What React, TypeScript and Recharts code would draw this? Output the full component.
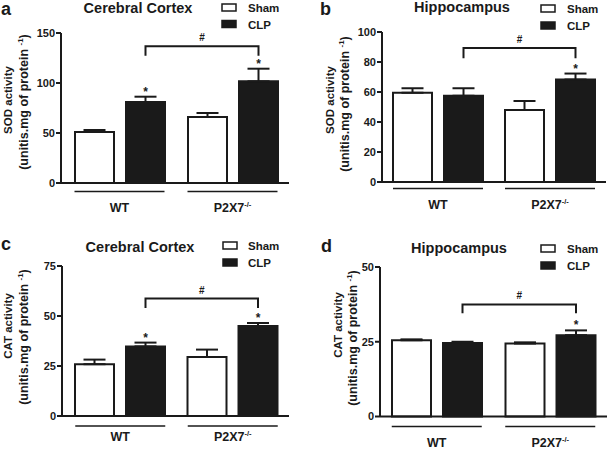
import React from 'react';
import { BarChart, Bar, XAxis, YAxis, ErrorBar, LabelList, Legend } from 'recharts';

// ---------- data ----------
const groups = ['WT', 'P2X7'];
const groupSup = ['', '-/-'];
const seriesNames = ['Sham', 'CLP'];

const sodCortexSham = [51, 66];
const sodCortexShamErr = [2, 4];
const sodCortexClp = [81, 101.7];
const sodCortexClpErr = [5.3, 12.6];
const sodCortexStars = ['*', '*'];
const sodCortexBracket = [136.7, 127.3];
const sodCortexTicks = [0, 50, 100, 150];

const sodHippoSham = [59.5, 48];
const sodHippoShamErr = [3, 6];
const sodHippoClp = [57.5, 68.3];
const sodHippoClpErr = [5, 4];
const sodHippoStars = ['', '*'];
const sodHippoBracket = [89.3, 82.5];
const sodHippoTicks = [0, 20, 40, 60, 80, 100];

const catCortexSham = [25.9, 29.5];
const catCortexShamErr = [2.3, 3.7];
const catCortexClp = [34.8, 45];
const catCortexClpErr = [1.9, 1.5];
const catCortexStars = ['*', '*'];
const catCortexBracket = [58.7, 54];
const catCortexTicks = [0, 25, 50, 75];

const catHippoSham = [25.5, 24.4];
const catHippoShamErr = [0.3, 0.4];
const catHippoClp = [24.6, 27.2];
const catHippoClpErr = [0.4, 1.6];
const catHippoStars = ['', '*'];
const catHippoBracket = [37.5, 34.5];
const catHippoTicks = [0, 25, 50];

const FONT = '"Liberation Sans", Arial, Helvetica, sans-serif';
const INK = '#1a1a1a';

function buildRows(sham: number[], shamErr: number[], clp: number[], clpErr: number[]) {
  return groups.map((g, i) => ({
    group: g,
    sham: sham[i],
    shamErr: [0, shamErr[i]],
    clp: clp[i],
    clpErr: [0, clpErr[i]],
  }));
}

function makeAnnot(err: number[], stars: string[], bracket: number[]) {
  const store: { x0?: number } = {};
  return (props: any) => {
    const vb = props.viewBox || props;
    const { x, y, width, height } = vb;
    const idx = props.index ?? 0;
    const value = Number(props.value);
    const h = Math.abs(height);
    const ppu = h / value;
    const top = Math.min(y, y + height);
    const base = top + h;
    const cx = x + width / 2;
    const capY = base - (value + err[idx]) * ppu;
    const star = stars[idx] ? (
      <text x={cx} y={capY - 1} textAnchor="middle" fontFamily={FONT} fontSize={12} fontWeight={700} fill={INK}>
        {stars[idx]}
      </text>
    ) : null;
    if (idx === 0) {
      store.x0 = cx;
      return <g>{star}</g>;
    }
    const x0 = store.x0;
    if (x0 === undefined) return <g>{star}</g>;
    const yTop = base - bracket[0] * ppu;
    const yBot = base - bracket[1] * ppu;
    return (
      <g>
        {star}
        <path d={`M${x0},${yBot} V${yTop} H${cx} V${yBot}`} fill="none" stroke={INK} strokeWidth={2} />
        <text x={(x0 + cx) / 2} y={yTop - 5} textAnchor="middle" fontFamily={FONT} fontSize={10} fontWeight={700} fill={INK}>
          #
        </text>
      </g>
    );
  };
}

function makeTick(lineDy: number, textDy: number) {
  return (props: any) => {
    const { x, y, payload, index } = props;
    const i = typeof index === 'number' ? index : groups.indexOf(payload.value);
    return (
      <g>
        <line x1={x - 45} x2={x + 45} y1={y + lineDy} y2={y + lineDy} stroke={INK} strokeWidth={1.5} />
        <text x={x} y={y + textDy} textAnchor="middle" fontFamily={FONT} fontSize={12.5} fontWeight={700} fill={INK}>
          {payload.value}
          {groupSup[i] ? (
            <tspan dy={-5} fontSize={7.5}>
              {groupSup[i]}
            </tspan>
          ) : null}
        </text>
      </g>
    );
  };
}

function makeLegend(lx: number, ly: number, step: number, textX: number) {
  return (props: any) => {
    const payload = [...(props.payload || [])].sort(
      (a: any, b: any) => seriesNames.indexOf(a.value) - seriesNames.indexOf(b.value)
    );
    return (
      <svg width={90} height={step * 2 + 6} style={{ display: 'block', overflow: 'visible' }}>
        {payload.map((p: any, i: number) => (
          <g key={i}>
            <rect x={2} y={2 + i * step} width={14} height={7} fill={p.color} stroke={INK} strokeWidth={1.5} />
            <text x={textX - lx + 2} y={2 + i * step + 8} fontFamily={FONT} fontSize={11.5} fontWeight={700} fill={INK}>
              {p.value}
            </text>
          </g>
        ))}
      </svg>
    );
  };
}

type Layout = {
  left: number; top: number; width: number; height: number;
  plotLeft: number; marginTop: number; marginRight: number; marginBottom: number; xAxisHeight: number; padLeft: number;
  titleX: number; titleY: number; letterX: number; letterY: number;
  legendX: number; legendY: number; legendStep: number; legendTextX: number;
  yl1X: number; yl1Y: number; yl2X: number; yl2Y: number;
  tickLineDy: number; tickTextDy: number;
};

function Panel(p: {
  layout: Layout; letter: string; title: string; yName: string;
  sham: number[]; shamErr: number[]; clp: number[]; clpErr: number[];
  stars: string[]; bracket: number[]; ticks: number[];
}) {
  const L = p.layout;
  const rows = buildRows(p.sham, p.shamErr, p.clp, p.clpErr);
  const maxV = p.ticks[p.ticks.length - 1];
  return (
    <div style={{ position: 'absolute', left: L.left, top: L.top, width: L.width, height: L.height }}>
      <BarChart
        width={L.width}
        height={L.height}
        data={rows}
        barGap={12}
        margin={{ top: L.marginTop, right: L.marginRight, bottom: L.marginBottom, left: 0 }}
      >
        <XAxis
          dataKey="group"
          height={L.xAxisHeight}
          tickSize={0}
          tickMargin={0}
          tickLine={false}
          axisLine={{ stroke: INK, strokeWidth: 2 }}
          padding={{ left: L.padLeft, right: 0 }}
          tick={makeTick(L.tickLineDy, L.tickTextDy)}
          interval={0}
        />
        <YAxis
          width={L.plotLeft}
          domain={[0, maxV]}
          ticks={p.ticks}
          interval={0}
          tickSize={5}
          tickMargin={1}
          axisLine={{ stroke: INK, strokeWidth: 2 }}
          tickLine={{ stroke: INK, strokeWidth: 2 }}
          tick={{ fontFamily: FONT, fontSize: 11, fontWeight: 700, fill: INK }}
        />
        <Legend
          layout="vertical"
          align="center"
          verticalAlign="middle"
          content={makeLegend(L.legendX, L.legendY, L.legendStep, L.legendTextX)}
          wrapperStyle={{ position: 'absolute', left: L.legendX - 2, top: L.legendY - 2, width: 90, height: L.legendStep * 2 + 6 }}
        />
        <Bar dataKey="sham" name="Sham" fill="#ffffff" stroke={INK} strokeWidth={2} barSize={39} isAnimationActive={false}>
          <ErrorBar dataKey="shamErr" width={11} stroke={INK} strokeWidth={2} direction="y" />
        </Bar>
        <Bar dataKey="clp" name="CLP" fill={INK} stroke={INK} strokeWidth={2} barSize={39} isAnimationActive={false}>
          <ErrorBar dataKey="clpErr" width={11} stroke={INK} strokeWidth={2} direction="y" />
          <LabelList dataKey="clp" content={makeAnnot(p.clpErr, p.stars, p.bracket)} />
        </Bar>
      </BarChart>
      <svg
        width={L.width}
        height={L.height}
        style={{ position: 'absolute', left: 0, top: 0, pointerEvents: 'none', overflow: 'visible' }}
      >
        <text x={L.letterX} y={L.letterY} fontFamily={FONT} fontSize={18} fontWeight={700} fill={INK}>
          {p.letter}
        </text>
        <text x={L.titleX} y={L.titleY} textAnchor="middle" fontFamily={FONT} fontSize={14.5} fontWeight={700} fill={INK}>
          {p.title}
        </text>
        <text
          transform={`translate(${L.yl1X},${L.yl1Y}) rotate(-90)`}
          textAnchor="middle"
          fontFamily={FONT}
          fontSize={11.5}
          fontWeight={700}
          fill={INK}
        >
          {p.yName}
        </text>
        <text
          transform={`translate(${L.yl2X},${L.yl2Y}) rotate(-90)`}
          textAnchor="middle"
          fontFamily={FONT}
          fontSize={12.5}
          fontWeight={700}
          fill={INK}
        >
          <tspan>(unitis.mg of protein </tspan>
          <tspan dy={-5} fontSize={8}>-1</tspan>
          <tspan dy={5}>)</tspan>
        </text>
      </svg>
    </div>
  );
}

const layoutA: Layout = {
  left: 0, top: 0, width: 305, height: 225,
  plotLeft: 61, marginTop: 33, marginRight: 16, marginBottom: 2, xAxisHeight: 40, padLeft: 2,
  titleX: 138, titleY: 13, letterX: 1, letterY: 15,
  legendX: 222, legendY: 4, legendStep: 16.5, legendTextX: 248,
  yl1X: 12, yl1Y: 100, yl2X: 28, yl2Y: 102,
  tickLineDy: 8.5, tickTextDy: 29,
};
const layoutB: Layout = {
  left: 305, top: 0, width: 304, height: 225,
  plotLeft: 77, marginTop: 32, marginRight: 3, marginBottom: 3, xAxisHeight: 40, padLeft: 0,
  titleX: 157, titleY: 12, letterX: 15, letterY: 15,
  legendX: 236, legendY: 5, legendStep: 17, legendTextX: 262,
  yl1X: 29, yl1Y: 100, yl2X: 44, yl2Y: 104,
  tickLineDy: 6.5, tickTextDy: 26.5,
};
const layoutC: Layout = {
  left: 0, top: 225, width: 305, height: 224,
  plotLeft: 62, marginTop: 41, marginRight: 16, marginBottom: 3, xAxisHeight: 30, padLeft: 2,
  titleX: 140, titleY: 27, letterX: 1, letterY: 25,
  legendX: 223, legendY: 17, legendStep: 17, legendTextX: 248,
  yl1X: 12, yl1Y: 101, yl2X: 28, yl2Y: 112,
  tickLineDy: 10, tickTextDy: 24.5,
};
const layoutD: Layout = {
  left: 305, top: 225, width: 304, height: 224,
  plotLeft: 75, marginTop: 42, marginRight: 2, marginBottom: 2.5, xAxisHeight: 30, padLeft: 0,
  titleX: 154, titleY: 28, letterX: 16, letterY: 27,
  legendX: 236, legendY: 20, legendStep: 17, legendTextX: 262,
  yl1X: 37, yl1Y: 100, yl2X: 52, yl2Y: 113,
  tickLineDy: 10, tickTextDy: 30,
};

export default function App() {
  return (
    <div style={{ position: 'absolute', left: 0, top: 0, width: 609, height: 449, background: '#fff', overflow: 'hidden' }}>
      <Panel layout={layoutA} letter="a" title="Cerebral Cortex" yName="SOD activity"
        sham={sodCortexSham} shamErr={sodCortexShamErr} clp={sodCortexClp} clpErr={sodCortexClpErr}
        stars={sodCortexStars} bracket={sodCortexBracket} ticks={sodCortexTicks} />
      <Panel layout={layoutB} letter="b" title="Hippocampus" yName="SOD activity"
        sham={sodHippoSham} shamErr={sodHippoShamErr} clp={sodHippoClp} clpErr={sodHippoClpErr}
        stars={sodHippoStars} bracket={sodHippoBracket} ticks={sodHippoTicks} />
      <Panel layout={layoutC} letter="c" title="Cerebral Cortex" yName="CAT activity"
        sham={catCortexSham} shamErr={catCortexShamErr} clp={catCortexClp} clpErr={catCortexClpErr}
        stars={catCortexStars} bracket={catCortexBracket} ticks={catCortexTicks} />
      <Panel layout={layoutD} letter="d" title="Hippocampus" yName="CAT activity"
        sham={catHippoSham} shamErr={catHippoShamErr} clp={catHippoClp} clpErr={catHippoClpErr}
        stars={catHippoStars} bracket={catHippoBracket} ticks={catHippoTicks} />
    </div>
  );
}
